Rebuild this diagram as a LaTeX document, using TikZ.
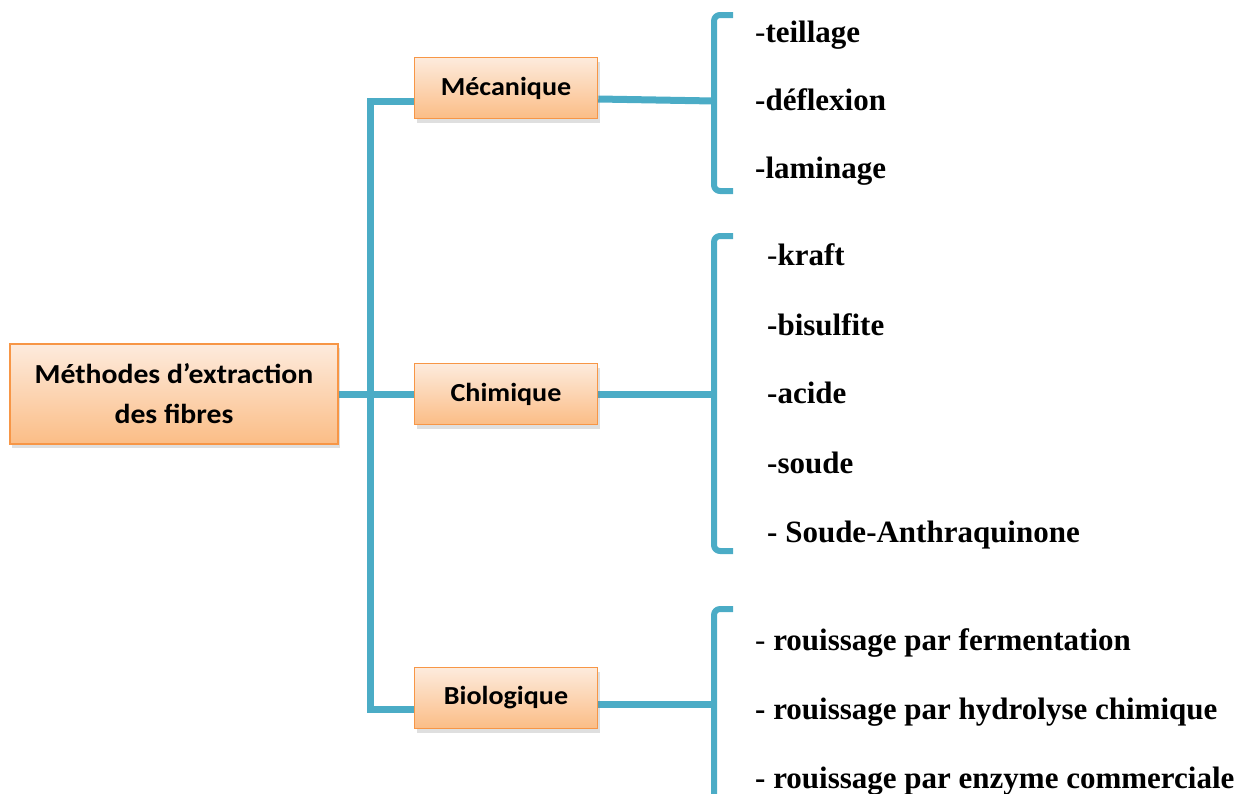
\documentclass[tikz,border=0pt]{standalone}
\usepackage{fontspec}
\setmainfont{Liberation Serif}
\newfontfamily\boxfont[FakeStretch=1.08]{Carlito}
\newfontfamily\itemfont{Liberation Serif}
\usetikzlibrary{positioning,shadows,backgrounds}
\definecolor{boxtop}{HTML}{FDEBDD}
\definecolor{boxbot}{HTML}{FBBD86}
\definecolor{boxline}{HTML}{F79646}
\definecolor{linkblue}{HTML}{4BACC6}

\begin{document}
\begin{tikzpicture}[x=1pt,y=-1pt]
    \tikzstyle{methode}=[draw=boxline,line width=1.5pt,top color=boxtop,bottom color=boxbot,align=center,
        font=\boxfont\bfseries\fontsize{26}{40}\selectfont,
        drop shadow={shadow xshift=2pt,shadow yshift=-4pt,opacity=0.25}]
    \tikzstyle{link}=[draw=linkblue,line width=7pt]
    \tikzstyle{brace}=[draw=linkblue,line width=6pt,rounded corners=6pt,line join=round]
    \tikzstyle{item}=[anchor=base west,inner sep=0pt,font=\itemfont\bfseries\fontsize{31}{34}\selectfont]

    \clip (0,0) rectangle (1259,793);

    \node[methode,minimum width=328pt,minimum height=100pt,font=\boxfont\bfseries\fontsize{27.5}{40}\selectfont]
        (root) at (174,394) {Méthodes d’extraction\\des fibres};
    \node[methode,minimum width=183pt,minimum height=61pt]  (mec)  at (506,88)  {Mécanique};
    \node[methode,minimum width=183pt,minimum height=61pt]  (chi)  at (506,394) {Chimique};
    \node[methode,minimum width=183pt,minimum height=61pt]  (bio)  at (506,698) {Biologique};

    % mecanique
    \node[item] (teil) at (755,42)  {{\mdseries-}teillage};
    \node[item] (defl) at (755,110) {-déflexion};
    \node[item] (lami) at (755,178) {-laminage};
    % chimique
    \node[item] (kraf) at (767,265) {{\mdseries-}kraft};
    \node[item] (bisu) at (767,335) {-bisulfite};
    \node[item] (acid) at (767,403) {-acide};
    \node[item] (soud) at (767,473) {-soude};
    \node[item] (anth) at (767,542) {- Soude-Anthraquinone};
    % biologique
    \node[item] (ferm) at (755,650) {{\mdseries-} rouissage par fermentation};
    \node[item] (hydr) at (755,719) {- rouissage par hydrolyse chimique};
    \node[item] (enzy) at (755,788) {- rouissage par enzyme commerciale};

    \coordinate (jtop) at (370,101);
    \coordinate (jbot) at (370,709);
    \coordinate (mectip) at (714,101);
    \coordinate (chitip) at (714,394);
    \coordinate (biotip) at (714,704);

    \draw[brace] (733,15) -- (714,15) -- (714,191) -- (733,191);
    \draw[brace] (733,236) -- (714,236) -- (714,551) -- (733,551);
    \draw[brace] (733,609) -- (714,609) -- (714,810);

    \begin{scope}[on background layer]
    \draw[link] ([yshift=-13pt]mec.west) -- (jtop) -- (jbot) -- ([yshift=-11pt]bio.west);
    \draw[link] (root.east) -- (chi.west);
    \draw[link] ([yshift=-11pt]mec.east) -- (mectip);
    \draw[link] (chi.east) -- (chitip);
    \draw[link] ([yshift=-6pt]bio.east) -- (biotip);
    \end{scope}
\end{tikzpicture}
\end{document}
